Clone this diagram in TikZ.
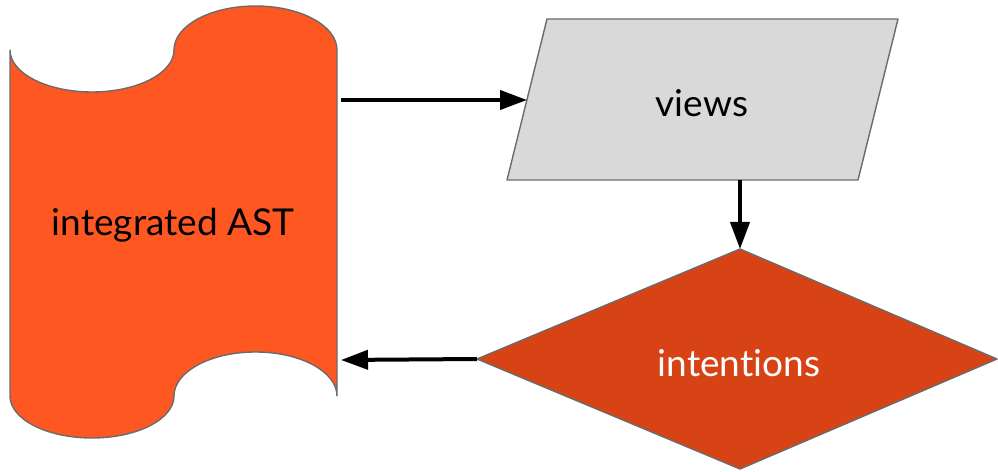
\documentclass[tikz,border=0pt]{standalone}
\usepackage{fontspec}
\setmainfont{Lato}[Ligatures=NoCommon]
\usetikzlibrary{arrows.meta}
\definecolor{astfill}{HTML}{FF5722}
\definecolor{intfill}{HTML}{D84315}
\definecolor{viewfill}{HTML}{D9D9D9}
\definecolor{edge}{HTML}{6B6B6B}
\tikzset{
  shapeline/.style={draw=edge, line width=1.4pt, line join=round},
  arr/.style={line width=4pt, -{Triangle[length=27pt,width=19pt]}},
  lbl/.style={font=\fontsize{37}{44}\selectfont, inner sep=0pt},
}
\begin{document}
\begin{tikzpicture}[x=1pt,y=1pt]
\useasboundingbox (0,0) rectangle (998,471);
% integrated AST (tape-like shape)
\path[shapeline, fill=astfill]
  (10,421) arc[start angle=180, end angle=360, x radius=82, y radius=42]
  arc[start angle=180, end angle=0, x radius=81.5, y radius=44]
  -- (337,75)
  arc[start angle=0, end angle=180, x radius=81.5, y radius=44]
  arc[start angle=0, end angle=-180, x radius=82, y radius=42]
  -- cycle;
\node[lbl, text=black] (ast) at (173,246) {integrated AST};
\coordinate (astTop) at (341,371);
\coordinate (astBot) at (341,111);
% views
\path[shapeline, fill=viewfill] (547,452) -- (898,452) -- (858,291) -- (507,291) -- cycle;
\node[lbl, text=black] (views) at (702,368) {views};
\coordinate (viewsW) at (527,371);
\coordinate (viewsS) at (740,291);
% intentions
\path[shapeline, fill=intfill] (740,222) -- (997,112) -- (740,2) -- (477,112) -- cycle;
\node[lbl, text=white] (int) at (739,108) {intentions};
\coordinate (intN) at (740,222);
\coordinate (intW) at (477,112);
% connectors
\draw[arr] (astTop) -- (viewsW);
\draw[arr] (viewsS) -- (intN);
\draw[arr] (intW) -- (astBot);
\end{tikzpicture}
\end{document}
